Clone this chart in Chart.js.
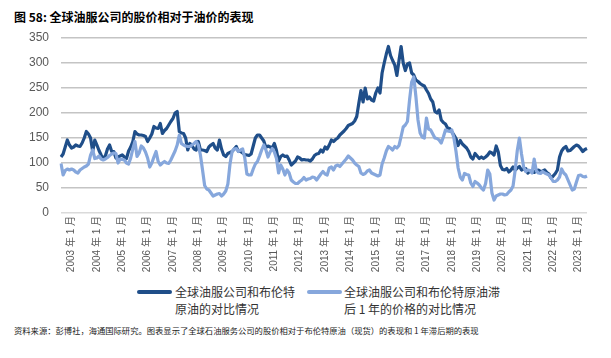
<!DOCTYPE html>
<html>
<head>
<meta charset="utf-8">
<script src="https://cdn.jsdelivr.net/npm/chart.js@4.4.0/dist/chart.umd.min.js"></script>
<style>
  body { margin: 0; background: #fff; width: 611px; height: 358px; overflow: hidden; position: relative;
         font-family: "Noto Sans CJK SC", "Liberation Sans", sans-serif; }
  #title { position: absolute; left: 14px; top: 8px; font-size: 12px; font-weight: bold; line-height: 18px; color: #000; white-space: nowrap; }
  #chart { position: absolute; left: 0; top: 0; }
  .leg-line { position: absolute; height: 4px; width: 35px; border-radius: 2px; }
  .leg-text { position: absolute; font-size: 12px; line-height: 17px; color: #333; white-space: nowrap; }
  #note { position: absolute; left: 14px; top: 322px; font-size: 8.3px; line-height: 16px; color: #222; white-space: nowrap; }
</style>
</head>
<body>
<div id="title">图 58: 全球油服公司的股价相对于油价的表现</div>
<canvas id="chart" width="611" height="280"></canvas>
<div class="leg-line" style="left:137px;top:290px;background:#1F4E89"></div>
<div class="leg-text" style="left:175px;top:283px">全球油服公司和布伦特<br>原油的对比情况</div>
<div class="leg-line" style="left:307px;top:290px;background:#86A7DC"></div>
<div class="leg-text" style="left:344px;top:283px">全球油服公司和布伦特原油滞<br>后 1 年的价格的对比情况</div>
<div id="note">资料来源：彭博社，海通国际研究。图表显示了全球石油服务公司的股价相对于布伦特原油（现货）的表现和 1 年滞后期的表现</div>
<script>
// monthly data, Aug 2002 .. May 2023
var startYear = 2002, startMonth = 8, monthCount = 250;

var seriesNames = ["全球油服公司和布伦特原油的对比情况", "全球油服公司和布伦特原油滞后 1 年的价格的对比情况"];

var vsBrent = [
	112, 118, 132, 146, 136,
	130, 132, 136, 134, 133, 140, 150, 163, 158, 150, 123, 146,
	136, 125, 116, 109, 114, 128, 136, 123, 123, 110, 112, 114,
	116, 112, 109, 124, 132, 143, 163, 158, 156, 156, 155, 153,
	143, 150, 158, 173, 170, 169, 179, 159, 165, 169, 176, 183,
	189, 200, 203, 163, 160, 159, 150, 126, 139, 135, 128, 126,
	143, 126, 126, 125, 123, 132, 136, 139, 130, 126, 146, 128,
	116, 113, 119, 121, 123, 128, 133, 123, 123, 120, 117, 116,
	115, 118, 134, 150, 156, 156, 150, 144, 131, 134, 132, 130,
	139, 125, 104, 113, 116, 113, 114, 106, 96, 100, 104, 112,
	110, 106, 107, 106, 106, 104, 108, 115, 118, 119, 126, 122,
	132, 128, 136, 146, 143, 147, 150, 156, 160, 164, 169, 175,
	177, 179, 184, 193, 220, 245, 222, 250, 228, 232, 226, 224,
	240, 250, 240, 280, 300, 318, 333, 315, 305, 296, 275, 305,
	333, 300, 285, 298, 300, 280, 276, 266, 263, 259, 256, 254,
	246, 239, 228, 222, 203, 200, 206, 186, 181, 178, 170, 169,
	162, 156, 149, 135, 145, 138, 134, 130, 123, 112, 108, 119,
	114, 109, 112, 109, 112, 116, 122, 120, 116, 134, 122, 95,
	87, 86, 89, 82, 86, 92, 86, 90, 93, 86, 88, 89,
	80, 84, 82, 81, 85, 86, 83, 84, 86, 81, 78, 70,
	74, 79, 86, 112, 124, 130, 133, 124, 125, 129, 133, 136,
	134, 129, 123, 127, 129
];

var vsBrentLag = [
	99, 76, 85, 88, 86,
	88, 86, 82, 80, 86, 89, 92, 94, 98, 116, 126, 109,
	110, 114, 108, 106, 108, 111, 115, 118, 120, 119, 100, 108,
	107, 106, 100, 98, 110, 128, 143, 113, 120, 134, 130, 122,
	110, 92, 100, 112, 123, 103, 96, 100, 103, 100, 99, 106,
	115, 124, 136, 156, 139, 136, 134, 133, 133, 136, 139, 143,
	136, 116, 86, 55, 48, 46, 40, 34, 36, 38, 39, 34,
	38, 44, 58, 98, 123, 128, 129, 123, 126, 128, 110, 78,
	76, 76, 88, 98, 103, 114, 126, 136, 126, 112, 122, 129,
	122, 109, 80, 96, 88, 76, 86, 80, 66, 62, 59, 59,
	63, 66, 71, 66, 68, 69, 72, 71, 66, 72, 78, 83,
	78, 76, 90, 92, 86, 94, 96, 93, 98, 103, 108, 114,
	110, 106, 100, 96, 93, 80, 77, 79, 84, 86, 80, 78,
	76, 74, 76, 98, 110, 124, 133, 130, 126, 133, 130, 135,
	153, 172, 176, 183, 226, 262, 272, 233, 186, 160, 152, 150,
	190, 168, 166, 158, 150, 149, 146, 140, 152, 166, 164, 163,
	166, 150, 123, 90, 72, 66, 79, 77, 76, 60, 53, 63,
	60, 56, 50, 46, 59, 86, 78, 40, 26, 34, 36, 38,
	38, 36, 37, 42, 46, 54, 86, 125, 150, 118, 92, 83,
	86, 85, 80, 108, 84, 80, 79, 83, 80, 78, 76, 70,
	63, 63, 66, 72, 88, 80, 76, 66, 56, 46, 48, 62,
	75, 76, 73, 72, 74
];

var yTicks = [0, 50, 100, 150, 200, 250, 300, 350];

var labels = [];
var monthNum = [];
for (var i = 0; i < monthCount; i++) {
	var m = (startMonth - 1 + i) % 12 + 1;
	var y = startYear + Math.floor((startMonth - 1 + i) / 12);
	labels.push(y + " 年 " + m + " 月");
	monthNum.push(m);
}

var ctx = document.getElementById('chart').getContext('2d');
var chart = new Chart(ctx, {
	type: 'line',
	data: {
		labels: labels,
		datasets: [
			{
				label: seriesNames[0],
				data: vsBrent,
				borderColor: "#1F4E89",
				borderWidth: 3.2,
				pointRadius: 0,
				tension: 0,
				borderJoinStyle: 'round',
				order: 1
			},
			{
				label: seriesNames[1],
				data: vsBrentLag,
				borderColor: "#86A7DC",
				borderWidth: 3.2,
				pointRadius: 0,
				tension: 0,
				borderJoinStyle: 'round',
				order: 0
			}
		]
	},
	options: {
		responsive: false,
		animation: false,
		devicePixelRatio: 1,
		layout: { padding: { top: 38, right: 24, left: 0, bottom: 0 } },
		plugins: { legend: { display: false }, tooltip: { enabled: false } },
		scales: {
			x: {
				grid: { display: false, drawTicks: false },
				border: { display: false },
				afterFit: function (scale) { scale.height = 67; },
				ticks: {
					autoSkip: false,
					minRotation: 90,
					maxRotation: 90,
					padding: 3,
					color: '#595959',
					font: { size: 10, family: '"Liberation Sans", "Noto Sans CJK SC"' },
					callback: function (value, index) {
						return monthNum[index] === 1 ? labels[index] : null;
					}
				}
			},
			y: {
				min: 0,
				max: 350,
				afterFit: function (scale) { scale.width = 61; },
				afterBuildTicks: function (scale) {
					scale.ticks = yTicks.map(function (v) { return { value: v }; });
				},
				grid: {
					drawTicks: false,
					lineWidth: 1.5,
					color: function (c) { return c.tick.value === 0 ? '#dadada' : '#c4c4c4'; }
				},
				border: { display: false },
				ticks: {
					padding: 12,
					color: '#595959',
					font: { size: 12, family: '"Liberation Sans"' }
				}
			}
		}
	}
});
</script>
</body>
</html>
